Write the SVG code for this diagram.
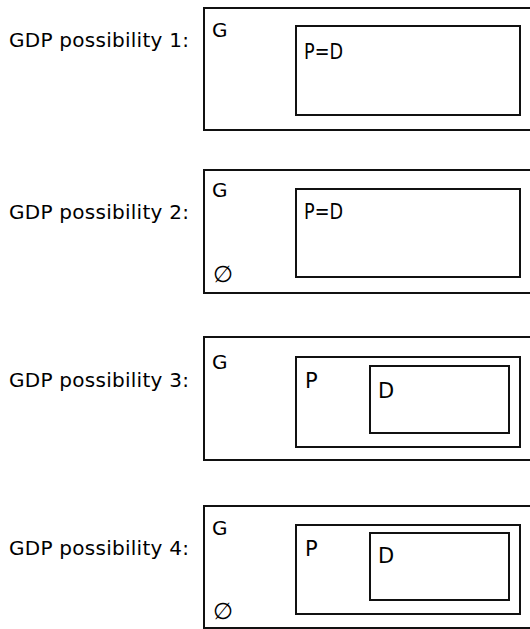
<svg xmlns="http://www.w3.org/2000/svg" width="530" height="629" viewBox="0 0 530 629">
<style>
  .box { fill: none; stroke: #111; stroke-width: 2; }
  .lbl { font-family: "DejaVu Sans", "Liberation Sans", sans-serif; font-size: 20px; fill: #000; }
  .t { font-family: "DejaVu Sans", "Liberation Sans", sans-serif; font-size: 21px; fill: #000; }
  .g { font-family: "DejaVu Sans", "Liberation Sans", sans-serif; font-size: 20px; fill: #000; }
  .e { font-family: "DejaVu Sans", "Liberation Sans", sans-serif; font-size: 23px; fill: #000; }
</style>
<rect width="530" height="629" fill="#ffffff"/>
<g id="labels">
  <text class="lbl" x="9" y="47" textLength="180" lengthAdjust="spacing">GDP possibility 1:</text>
  <text class="lbl" x="9" y="219" textLength="180" lengthAdjust="spacing">GDP possibility 2:</text>
  <text class="lbl" x="9" y="387" textLength="180" lengthAdjust="spacing">GDP possibility 3:</text>
  <text class="lbl" x="9" y="555" textLength="180" lengthAdjust="spacing">GDP possibility 4:</text>
</g>
<g id="possibility1">
  <rect class="box" x="204" y="8" width="330" height="122"/>
  <text class="g" x="212" y="37">G</text>
  <rect class="box" x="296" y="26" width="224" height="89"/>
  <text class="t" x="304" y="59" textLength="39" lengthAdjust="spacingAndGlyphs">P=D</text>
</g>
<g id="possibility2">
  <rect class="box" x="204" y="170" width="330" height="123"/>
  <text class="g" x="212" y="197">G</text>
  <text class="e" x="213" y="282">∅</text>
  <rect class="box" x="296" y="189" width="224" height="88"/>
  <text class="t" x="304" y="219" textLength="39" lengthAdjust="spacingAndGlyphs">P=D</text>
</g>
<g id="possibility3">
  <rect class="box" x="204" y="337" width="330" height="123"/>
  <text class="g" x="212" y="369">G</text>
  <rect class="box" x="296" y="357" width="224" height="90"/>
  <text class="t" x="305" y="388">P</text>
  <rect class="box" x="370" y="366" width="139" height="67"/>
  <text class="t" x="378" y="398">D</text>
</g>
<g id="possibility4">
  <rect class="box" x="204" y="506" width="330" height="122"/>
  <text class="g" x="212" y="535">G</text>
  <text class="e" x="213" y="619">∅</text>
  <rect class="box" x="296" y="525" width="224" height="89"/>
  <text class="t" x="305" y="556">P</text>
  <rect class="box" x="370" y="533" width="139" height="67"/>
  <text class="t" x="378" y="563">D</text>
</g>
<g id="connectors"></g>
</svg>
